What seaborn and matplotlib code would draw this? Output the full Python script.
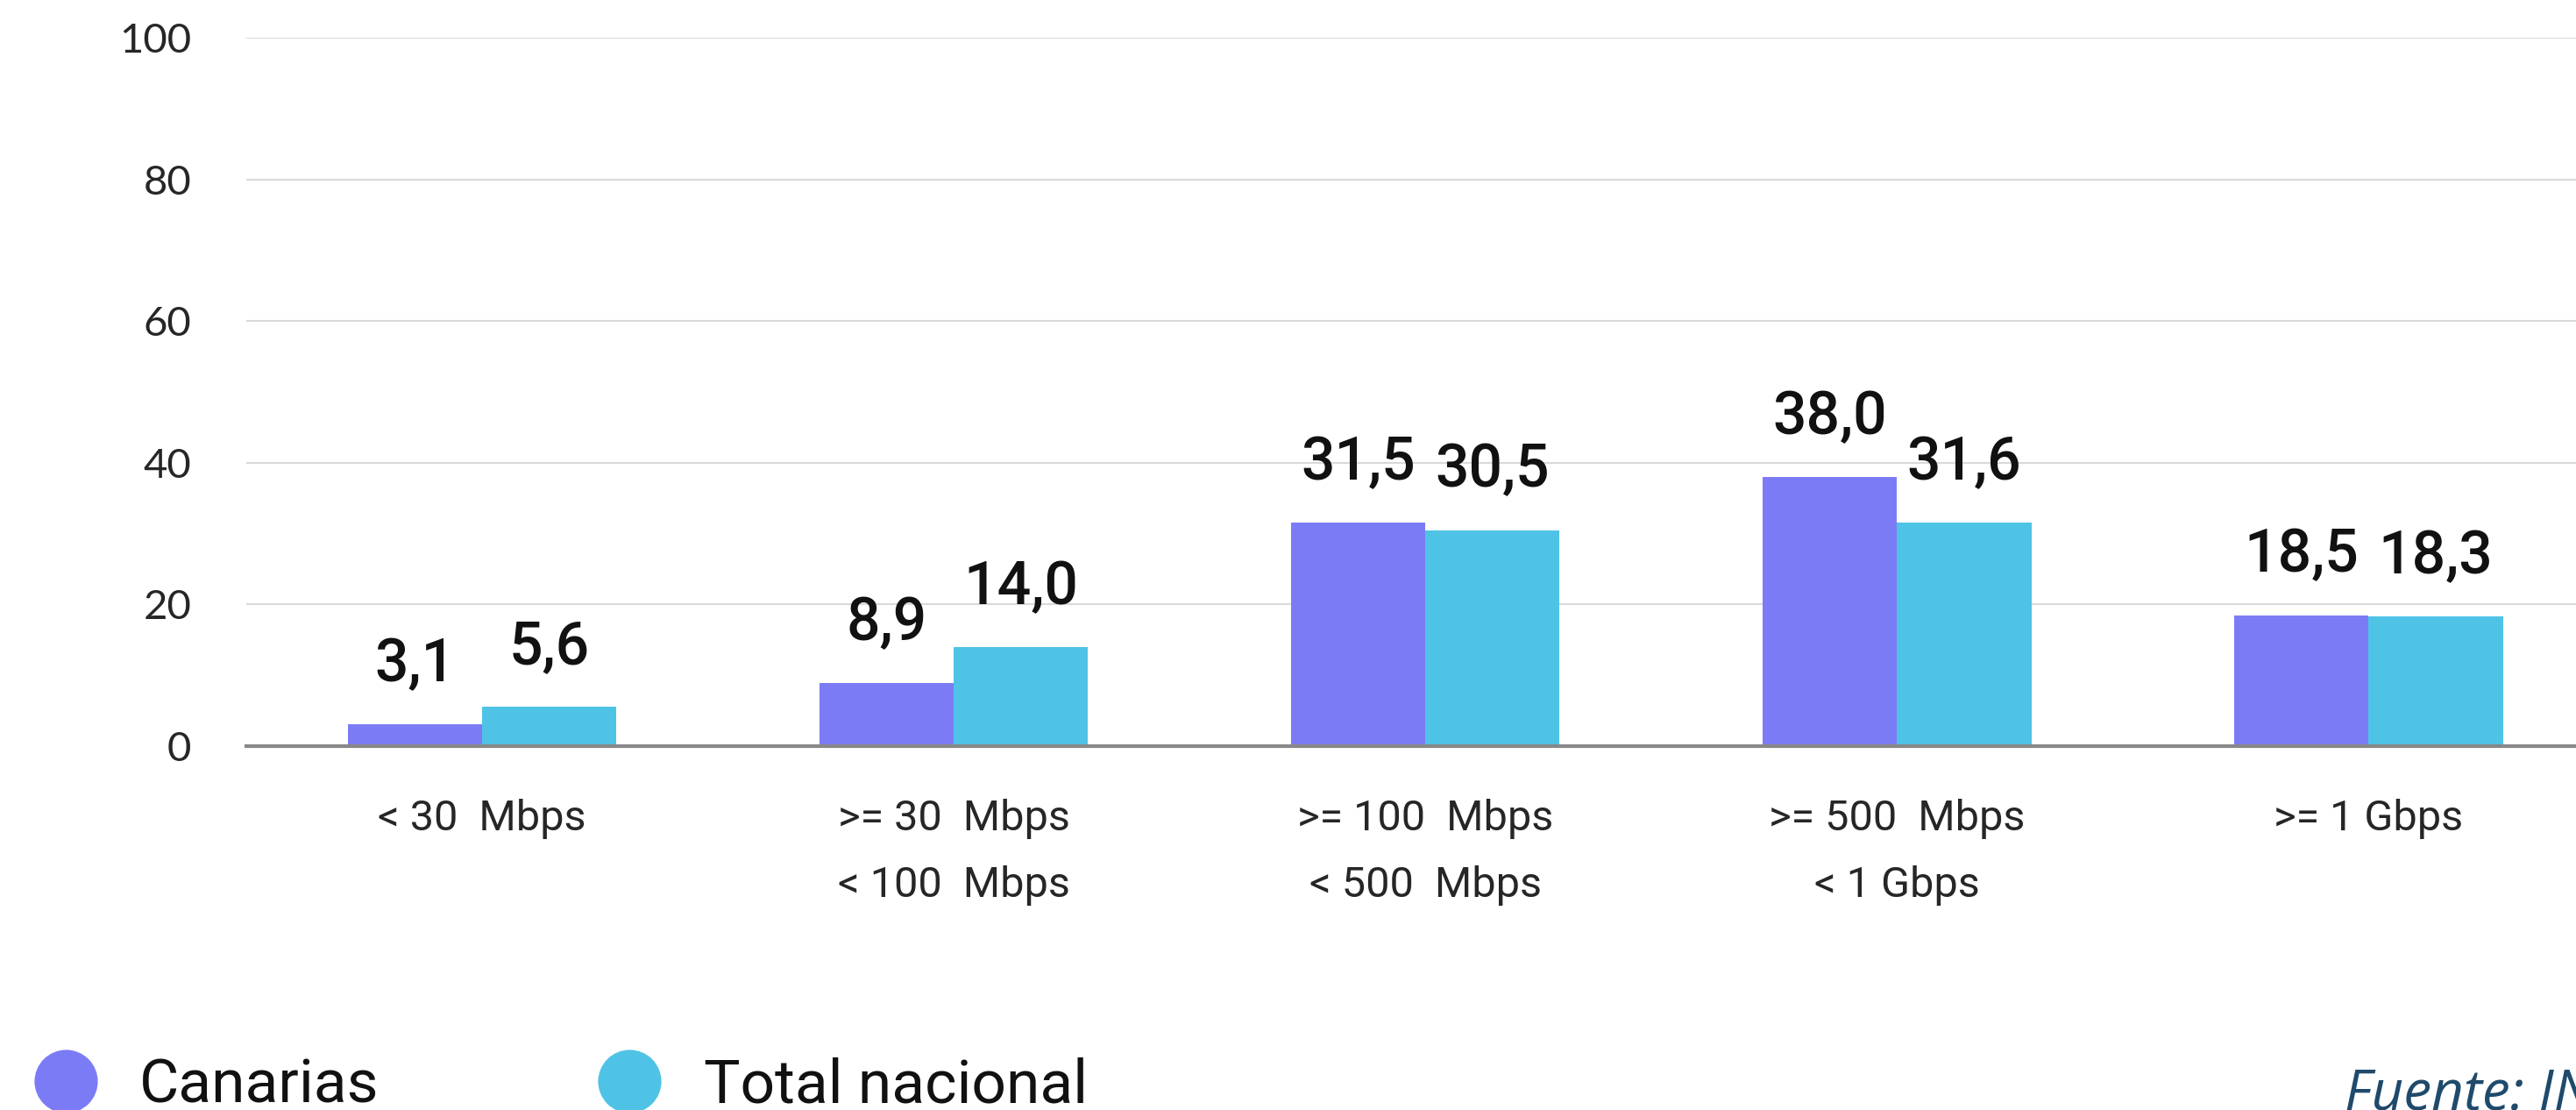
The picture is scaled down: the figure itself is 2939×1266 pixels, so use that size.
import matplotlib
matplotlib.use("Agg")
import matplotlib.pyplot as plt
from matplotlib.lines import Line2D
import seaborn as sns
import pandas as pd

categories = ["< 30 Mbps", ">= 30 Mbps\n< 100 Mbps", ">= 100 Mbps\n< 500 Mbps",
              ">= 500 Mbps\n< 1 Gbps", ">= 1 Gbps"]
series_names = ["Canarias", "Total nacional"]
canarias = [3.1, 8.9, 31.5, 38.0, 18.5]
total_nacional = [5.6, 14.0, 30.5, 31.6, 18.3]
y_ticks = [0, 20, 40, 60, 80, 100]
colors = ["#7b7cf5", "#4fc3e6"]
source_text = "Fuente: INE"

df = pd.DataFrame({
    "cat": categories * 2,
    "serie": [series_names[0]] * 5 + [series_names[1]] * 5,
    "valor": canarias + total_nacional,
})

sns.set_theme(style="white")
plt.rcParams["font.family"] = ["Roboto", "DejaVu Sans"]

W, H = 2939, 1266
fig = plt.figure(figsize=(W / 100, H / 100), dpi=100)
ax = fig.add_axes([281 / W, 1 - 851 / H, 1 - 281 / W, (851 - 43) / H])

sns.barplot(data=df, x="cat", y="valor", hue="serie", palette=colors,
            width=0.57, saturation=1, ax=ax, legend=False, order=categories,
            hue_order=series_names, linewidth=0)

ax.set_ylim(0, 100)
ax.set_xlim(-0.5, 4.44)
ax.set_yticks(y_ticks)
ax.set_yticklabels([str(v) for v in y_ticks], fontsize=34, family=["Lato", "DejaVu Sans"])
ax.set_xticks(range(len(categories)))
ax.set_xticklabels([c.replace(" Mbps", "  Mbps") for c in categories],
                   fontsize=35, linespacing=1.85, va="top")
ax.tick_params(axis="y", length=0, pad=45)
ax.tick_params(axis="x", length=0, pad=43)
ax.set_xlabel("")
ax.set_ylabel("")
ax.yaxis.grid(True, color="#d9d9d9", linewidth=1.5)
ax.set_axisbelow(True)
for s in ["top", "right", "left"]:
    ax.spines[s].set_visible(False)
ax.spines["bottom"].set_color("#888888")
ax.spines["bottom"].set_linewidth(3)
ax.spines["bottom"].set_zorder(5)

for cont in ax.containers:
    for bar in cont:
        h = bar.get_height()
        ax.annotate(f"{h:.1f}".replace(".", ","),
                    (bar.get_x() + bar.get_width() / 2, h),
                    xytext=(0, 49), textcoords="offset points",
                    ha="center", va="center", fontsize=49, fontweight="medium",
                    color="#111111")

# legend (manual, circles + labels)
leg_marker_x = [75, 718]
leg_text_x = [159, 803]
for mx, tx, c, name in zip(leg_marker_x, leg_text_x, colors, series_names):
    fig.add_artist(Line2D([mx / W], [1 - 1233 / H], marker="o", linestyle="",
                          markersize=52, markerfacecolor=c, markeredgewidth=0,
                          transform=fig.transFigure))
    fig.text(tx / W, 1 - 1258 / H, name, fontsize=50, color="#111111",
             ha="left", va="baseline")

fig.text(2675 / W, 1 - 1265 / H, source_text, fontsize=46, style="italic",
         color="#1f4a6b", ha="left", va="baseline",
         family=["Open Sans", "DejaVu Sans"])

fig.savefig("out.png", dpi=100)
